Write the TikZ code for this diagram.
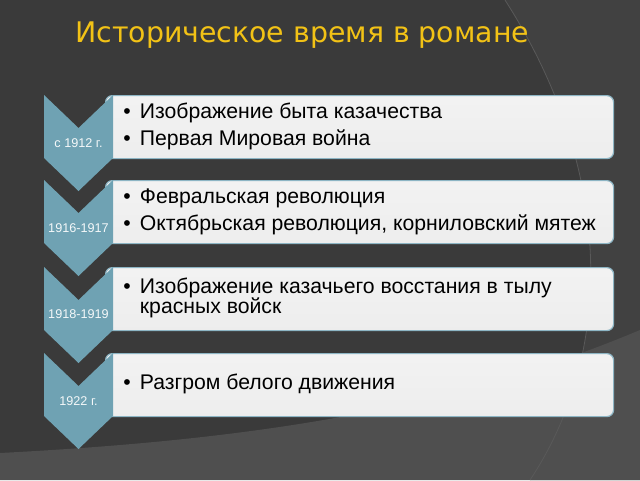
\documentclass[tikz,border=0pt]{standalone}
\usepackage{fontspec}
\setmainfont{Liberation Sans}
\newfontfamily\titlefont{DejaVu Sans}
\usetikzlibrary{positioning}

\definecolor{slide}{HTML}{3A3A3A}
\definecolor{slidedim}{HTML}{414141}
\definecolor{slidelight}{HTML}{4F4F4F}
\definecolor{chev}{HTML}{6FA2B3}
\definecolor{boxline}{HTML}{8DB5C4}
\definecolor{gold}{HTML}{F2C216}

\newcommand{\bul}{\makebox[12.5pt][l]{\textbullet}}

\begin{document}
\begin{tikzpicture}[
    x=0.75pt, y=-0.75pt,
    chevron/.style={fill=chev},
    entry/.style={rectangle, rounded corners=5pt, draw=boxline, line width=0.9pt, top color=gray!10, bottom color=gray!14, minimum width=381pt, minimum height=47.25pt, anchor=north west},
    items/.style={inner sep=0pt, anchor=west, align=left, font=\fontsize{15.9}{15.2}\selectfont},
    period/.style={inner sep=0pt, text=white!92!chev, font=\fontsize{9.5}{11}\selectfont}
]
\useasboundingbox (0,0) rectangle (640,480);

% background
\fill[slide] (0,0) rectangle (640,480);
\fill[slidedim] (505,0) .. controls (620,180) and (610,360) .. (530,480) -- (640,480) -- (640,0) -- cycle;
\fill[slidelight] (0,453) .. controls (250,440) and (450,410) .. (640,330) -- (640,480) -- (0,480) -- cycle;
\draw[gray!45!slide, line width=0.6pt] (505,0) .. controls (620,180) and (610,360) .. (530,480);

% title
\node (title) [anchor=base west, inner sep=0pt, text=gold, font=\titlefont\fontsize{21.3}{25}\selectfont] at (75,42) {Историческое время в романе};

% boxes
\node (box1) [entry] at (105,95) {};
\node (box2) [entry] at (105,180) {};
\node (box3) [entry] at (105,267) {};
\node (box4) [entry] at (105,353) {};

% chevrons
\fill[chevron] (44,95) -- (78.5,128) -- (113,95) -- (113,158) -- (78.5,191) -- (44,158) -- cycle;
\fill[chevron] (44,180) -- (78.5,213) -- (113,180) -- (113,243) -- (78.5,276) -- (44,243) -- cycle;
\fill[chevron] (44,267) -- (78.5,300) -- (113,267) -- (113,330) -- (78.5,363) -- (44,330) -- cycle;
\fill[chevron] (44,353) -- (78.5,386) -- (113,353) -- (113,416) -- (78.5,449) -- (44,416) -- cycle;

% periods
\node (per1) [period] at (78.5,143) {с 1912 г.};
\node (per2) [period] at (78.5,228) {1916-1917};
\node (per3) [period] at (78.5,314) {1918-1919};
\node (per4) [period] at (78.5,401) {1922 г.};

% texts
\node (txt1) [items] at (123,126.5) {\bul Изображение быта казачества\\[5.25pt]\bul Первая Мировая война};
\node (txt2) [items] at (123,211.5) {\bul Февральская революция\\[5.25pt]\bul Октябрьская революция, корниловский мятеж};
\node (txt3) [items] at (123,298) {\bul Изображение казачьего восстания в тылу\\\hspace*{12.5pt}красных войск};
\node (txt4) [items] at (123,384) {\bul Разгром белого движения};

\end{tikzpicture}
\end{document}
